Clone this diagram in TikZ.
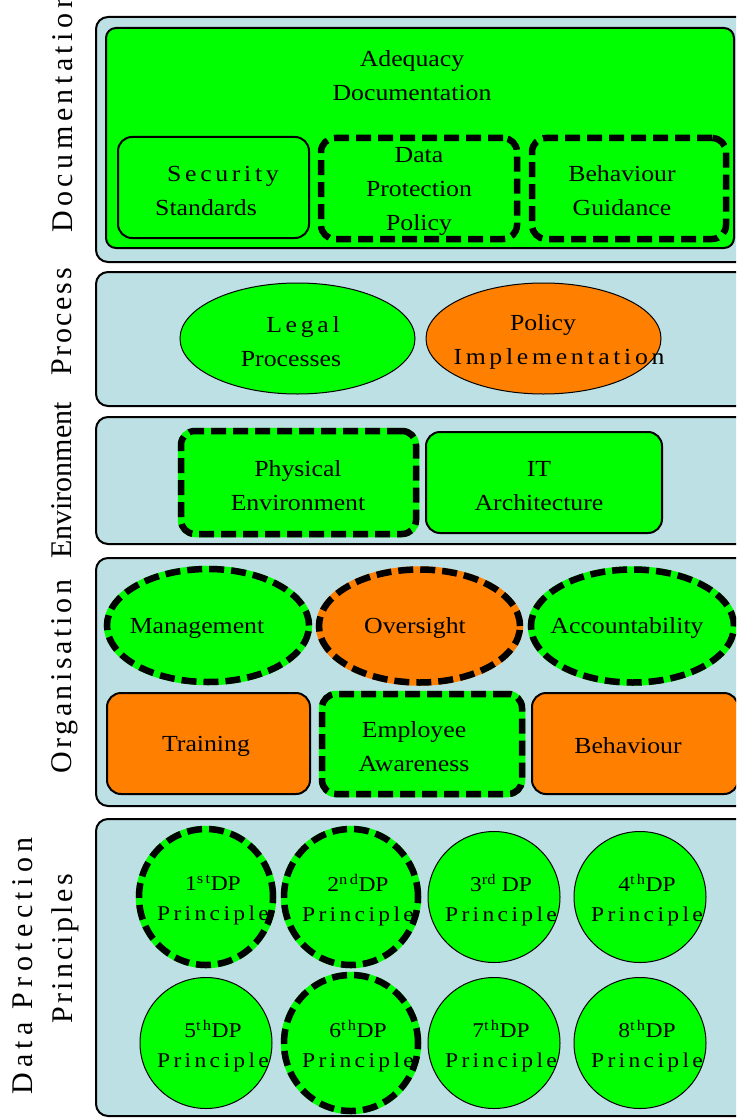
\documentclass[tikz,border=0pt]{standalone}
\usepackage{fontspec}
\setmainfont{Liberation Serif}
\newfontfamily\wf{Liberation Serif}[FakeStretch=1.12]
\usetikzlibrary{shapes.geometric}
\definecolor{gr}{HTML}{00FF00}
\definecolor{orng}{HTML}{FF8000}
\definecolor{pan}{HTML}{BDE0E4}
\newcommand\lsp{\addfontfeature{LetterSpace=16}}
\tikzset{
  panel/.style={draw=black, line width=2pt, fill=pan, rounded corners=12pt, inner sep=0pt},
  rbox/.style={draw=black, line width=2pt, rounded corners=14pt, inner sep=0pt},
  dbox/.style={rbox, fill=#1, preaction={draw=#1, solid, line width=6.5pt}, line width=6.5pt, dash pattern=on 15pt off 7pt},
  ell/.style={ellipse, draw=black, line width=1pt, inner sep=0pt},
  dell/.style={ell, fill=#1, preaction={draw=#1, solid, line width=6.5pt}, line width=6.5pt, dash pattern=on 15pt off 7pt},
  txt/.style={inner sep=0pt, align=center, font=\wf\fontsize{23}{34}\selectfont},
  ctxt/.style={inner sep=0pt, align=center, font=\wf\fontsize{21}{30}\selectfont},
  side/.style={rotate=90, anchor=base west, inner sep=0pt, font=\fontsize{30}{36}\selectfont},
}
\begin{document}
\begin{tikzpicture}[x=1pt, y=-1pt]
\clip (0,0) rectangle (736,1118);
\fill[white] (0,0) rectangle (736,1118);

% panels
\node[panel, minimum width=652, minimum height=245] (pDoc) at (422,139.5) {};
\node[panel, minimum width=652, minimum height=134] (pProc) at (422,339) {};
\node[panel, minimum width=652, minimum height=127] (pEnv) at (422,480.5) {};
\node[panel, minimum width=652, minimum height=248] (pOrg) at (422,682) {};
\node[panel, minimum width=652, minimum height=297] (pDP) at (422,967.5) {};

% documentation
\node[rbox, fill=gr, rounded corners=10pt, minimum width=628, minimum height=220] (docbox) at (420,138) {};
\node[txt] (adeq) at (412,76) {Adequacy\\Documentation};
\node[rbox, fill=gr, minimum width=191, minimum height=101] (sec) at (213.5,187.5) {};
\node[txt] (sect) at (206,191) {\hspace*{34pt}{\lsp Security}\\Standards};
\node[dbox=gr, minimum width=196, minimum height=101] (dpp) at (419,188.5) {};
\node[txt] (dppt) at (419,191) {Data\\Protection\\Policy};
\node[dbox=gr, minimum width=194, minimum height=101] (bg) at (629,188.5) {};
\node[txt] (bgt) at (622,191) {Behaviour\\Guidance};

% process
\node[ell, fill=gr, minimum width=235, minimum height=111] (legal) at (297.5,338.5) {};
\node[txt] (legt) at (291,342) {\hspace*{24pt}{\lsp Legal}\\Processes};
\node[ell, fill=orng, minimum width=235, minimum height=111] (pol) at (543.5,338.5) {};
\node[txt] (polt) at (543,342) {Policy\\\hspace*{32pt}{\lsp Implementation}};

% environment
\node[dbox=gr, minimum width=235, minimum height=103] (phy) at (298.5,482.5) {};
\node[txt] (phyt) at (298,486) {Physical\\Environment};
\node[rbox, fill=gr, minimum width=236, minimum height=101] (it) at (544,482.5) {};
\node[txt] (itt) at (539,486) {IT\\Architecture};

% organisation
\node[dell=gr, minimum width=202, minimum height=113] (man) at (208,625.5) {};
\node[txt] (mant) at (197,628) {Management};
\node[dell=orng, minimum width=201, minimum height=113] (ove) at (419.5,626) {};
\node[txt] (ovt) at (415,628) {Oversight};
\node[dell=gr, minimum width=203, minimum height=113] (acc) at (632.5,626) {};
\node[txt] (acct) at (627,628) {Accountability};
\node[rbox, fill=orng, minimum width=203, minimum height=101] (tra) at (208.5,743.5) {};
\node[txt] (trt) at (206,746) {Training};
\node[dbox=gr, minimum width=200, minimum height=100] (emp) at (422,744) {};
\node[txt] (empt) at (414,747) {Employee\\Awareness};
\node[rbox, fill=orng, minimum width=206, minimum height=101] (beh) at (635,743.5) {};
\node[txt] (beht) at (628,746) {Behaviour};

% data protection principles
\node[dell=gr, minimum width=134, minimum height=136] (p1) at (206,897) {};
\node[dell=gr, minimum width=134, minimum height=136] (p2) at (351,897) {};
\node[ell, fill=gr, minimum width=132, minimum height=131] (p3) at (494,897) {};
\node[ell, fill=gr, minimum width=132, minimum height=131] (p4) at (640,897) {};
\node[ell, fill=gr, minimum width=132, minimum height=131] (p5) at (206,1043) {};
\node[dell=gr, minimum width=134, minimum height=136] (p6) at (351,1043) {};
\node[ell, fill=gr, minimum width=132, minimum height=131] (p7) at (494,1043) {};
\node[ell, fill=gr, minimum width=132, minimum height=131] (p8) at (640,1043) {};
\node[ctxt] (p1t) at (213,900) {1\textsuperscript{\lsp st}DP\\{\lsp Principle}};
\node[ctxt] (p2t) at (358,900) {2\textsuperscript{\lsp nd}DP\\{\lsp Principle}};
\node[ctxt] (p3t) at (501,900) {3\textsuperscript{rd} DP\\{\lsp Principle}};
\node[ctxt] (p4t) at (647,900) {4\textsuperscript{\lsp th}DP\\{\lsp Principle}};
\node[ctxt] (p5t) at (213,1046) {5\textsuperscript{\lsp th}DP\\{\lsp Principle}};
\node[ctxt] (p6t) at (358,1046) {6\textsuperscript{\lsp th}DP\\{\lsp Principle}};
\node[ctxt] (p7t) at (501,1046) {7\textsuperscript{\lsp th}DP\\{\lsp Principle}};
\node[ctxt] (p8t) at (647,1046) {8\textsuperscript{\lsp th}DP\\{\lsp Principle}};

% side labels
\node[side] (lDoc) at (72,233) {\addfontfeature{LetterSpace=15}Documentation};
\node[side] (lProc) at (71,376) {\addfontfeature{LetterSpace=9}Process};
\node[side] (lEnv) at (71,559) {Environment};
\node[side] (lOrg) at (71,774) {\addfontfeature{LetterSpace=12}Organisation};
\node[side] (lDP1) at (32,1095) {\addfontfeature{LetterSpace=18}Data Protection};
\node[side] (lDP2) at (72,1024) {\addfontfeature{LetterSpace=11}Principles};
\end{tikzpicture}
\end{document}
